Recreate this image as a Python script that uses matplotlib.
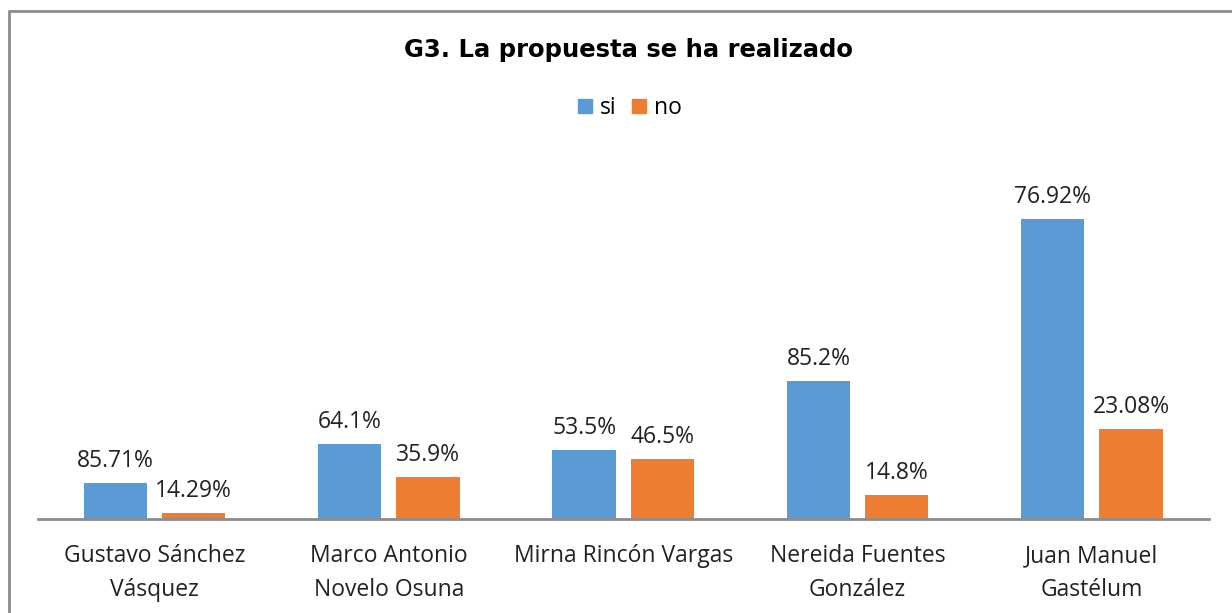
import matplotlib
matplotlib.use("Agg")
import matplotlib.pyplot as plt
from matplotlib.patches import Rectangle, Patch
import numpy as np

categories = ["Gustavo Sánchez\nVásquez", "Marco Antonio\nNovelo Osuna", "Mirna Rincón Vargas",
              "Nereida Fuentes\nGonzález", "Juan Manuel\nGastélum"]
si_values = [12, 25, 23, 46, 100]
no_values = [2, 14, 20, 8, 30]
si_labels = ["85.71%", "64.1%", "53.5%", "85.2%", "76.92%"]
no_labels = ["14.29%", "35.9%", "46.5%", "14.8%", "23.08%"]
series_names = ["si", "no"]
title = "G3. La propuesta se ha realizado"

BLUE = "#5B9BD5"
ORANGE = "#ED7D31"

W, H = 1232, 613
fig = plt.figure(figsize=(W / 100, H / 100), dpi=100)
fig.patch.set_facecolor("white")

left, right = 37.5 / W, 1209 / W
bottom, top = (H - 519) / H, (H - 150) / H
ax = fig.add_axes([left, bottom, right - left, top - bottom])

x = np.arange(len(categories))
bw = 0.27
off = 0.167
b1 = ax.bar(x - off, si_values, bw, color=BLUE, label=series_names[0], zorder=2)
b2 = ax.bar(x + off, no_values, bw, color=ORANGE, label=series_names[1], zorder=2)

ax.set_xlim(-0.5, len(categories) - 0.5)
ax.set_ylim(0, 123)

lab_font = "Open Sans"
FS = 16.5
for bars, labels in ((b1, si_labels), (b2, no_labels)):
    for rect, lab in zip(bars, labels):
        ax.annotate(lab, (rect.get_x() + rect.get_width() / 2, rect.get_height()),
                    xytext=(0, 7), textcoords="offset points", ha="center", va="bottom",
                    fontsize=FS, family=lab_font, color="#222222")

ax.set_xticks(x)
ax.set_xticklabels(categories, fontsize=FS, family=lab_font, color="#222222", linespacing=1.55)
ax.tick_params(axis="x", length=0, pad=18)
ax.set_yticks([])
for s in ["top", "right", "left"]:
    ax.spines[s].set_visible(False)
ax.spines["bottom"].set_color("#8C8C8C")
ax.spines["bottom"].set_linewidth(2)
ax.spines["bottom"].set_zorder(3)

fig.text(628 / W, 1 - 50 / H, title, ha="center", va="center", fontsize=17.5,
         fontweight="bold", family="DejaVu Sans", color="black")

handles = [Patch(color=BLUE), Patch(color=ORANGE)]
fig.legend(handles, series_names, loc="center", bbox_to_anchor=(630 / W, 1 - 108 / H),
           ncol=2, frameon=False, prop={"family": lab_font, "size": FS},
           handlelength=0.6, handleheight=0.6, handletextpad=0.35, columnspacing=0.7)

border = Rectangle((8.5 / W, -0.05), 1.1, 1 - 10.5 / H + 0.05, transform=fig.transFigure,
                   fill=False, edgecolor="#8C8C8C", linewidth=2)
fig.patches.append(border)

fig.savefig("out.png", dpi=100, facecolor="white")
